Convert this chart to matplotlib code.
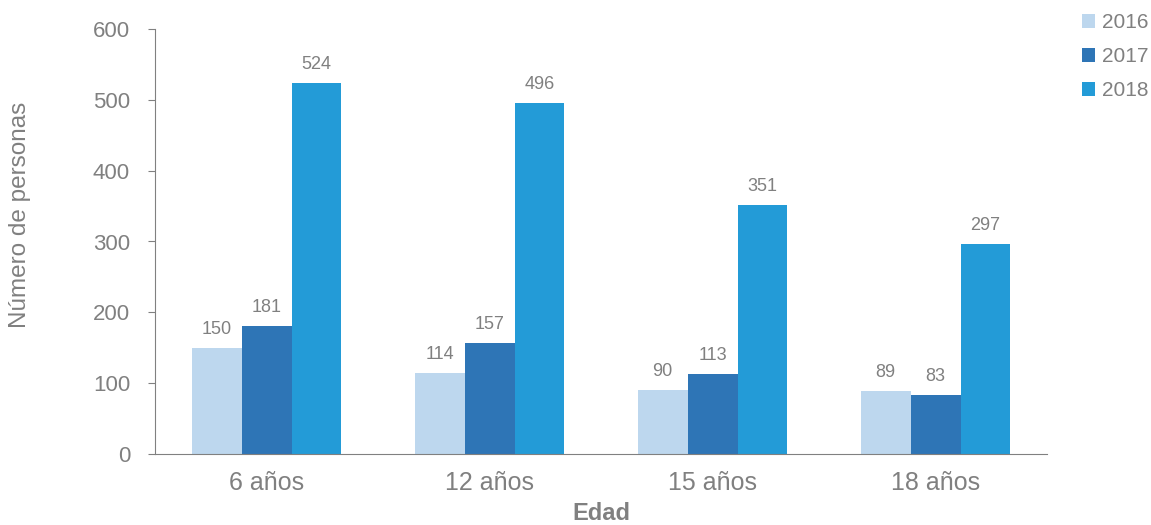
import matplotlib
matplotlib.use("Agg")
import matplotlib.pyplot as plt
import numpy as np

plt.rcParams['font.family'] = ['Liberation Sans', 'DejaVu Sans']

categories = ["6 años", "12 años", "15 años", "18 años"]
years = ["2016", "2017", "2018"]
v2016 = [150, 114, 90, 89]
v2017 = [181, 157, 113, 83]
v2018 = [524, 496, 351, 297]

colors = ["#BDD7EE", "#2E75B6", "#239BD7"]
gray = "#808080"

fig = plt.figure(figsize=(11.51, 5.25), dpi=100)
ax = fig.add_axes([0.1347, 0.1352, 0.775, 0.8096])

x = np.arange(len(categories))
w = 0.224
series = [v2016, v2017, v2018]
for i, (vals, c, yr) in enumerate(zip(series, colors, years)):
    pos = x + (i - 1) * w
    ax.bar(pos, vals, width=w, color=c, label=yr, edgecolor='none')
    for px, v in zip(pos, vals):
        ax.text(px, v + 14, str(v), ha='center', va='bottom', fontsize=13, color=gray)

ax.set_xlim(-0.5, 3.5)
ax.set_ylim(0, 600)
ax.set_yticks(range(0, 601, 100))
ax.set_xticks(x)
ax.set_xticklabels(categories)
ax.tick_params(axis='x', length=0, labelsize=18, labelcolor=gray, pad=12)
ax.tick_params(axis='y', length=5, color=gray, labelsize=16, labelcolor=gray, pad=13)
for s in ['top', 'right']:
    ax.spines[s].set_visible(False)
for s in ['left', 'bottom']:
    ax.spines[s].set_color(gray)
ax.set_ylabel("Número de personas", fontsize=17.5, color=gray)
ax.yaxis.set_label_coords(-0.139, 0.562)
ax.set_xlabel("Edad", fontsize=17, color=gray, fontweight='bold', labelpad=5)

leg = fig.legend(loc='upper left', bbox_to_anchor=(0.940, 0.975), frameon=False,
                 fontsize=15, handlelength=0.62, handleheight=0.62, handletextpad=0.35,
                 labelspacing=0.72, borderaxespad=0.0, borderpad=0.0)
for t in leg.get_texts():
    t.set_color(gray)

fig.savefig("out.png", dpi=100)
